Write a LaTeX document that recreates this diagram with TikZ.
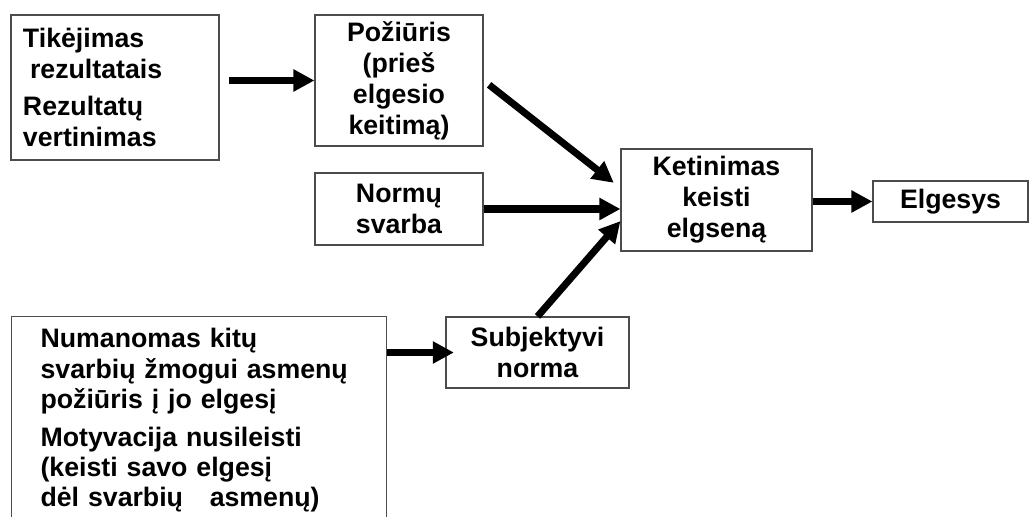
\documentclass[tikz,border=0pt]{standalone}
\usepackage{fontspec}
\setmainfont{Liberation Sans}
\usetikzlibrary{arrows.meta, positioning, calc}

\begin{document}
\begin{tikzpicture}[
  box/.style={rectangle, draw=black!70, line width=0.8pt, fill=white, align=center, inner ysep=2pt, font=\bfseries\fontsize{19}{22}\selectfont},
  leftbox/.style={box, align=left, inner xsep=0.3cm},
  arrow/.style={-{Triangle[length=15pt, width=15pt]}, line width=5pt}
]
  % Frame
  \clip (0,0) rectangle (25.725,12.9);

  % Left boxes
  \node[leftbox, minimum width=5.2cm, minimum height=3.625cm, text width=4.6cm] (tik) at (2.875, 10.7125)
    {Tikėjimas\\ \hspace*{5pt}rezultatais\\[4pt] Rezultatų\\ vertinimas};
  \node[leftbox, anchor=north west, minimum width=9.375cm, text width=7.925cm, inner xsep=0.725cm, inner ysep=0.3cm,
    font=\bfseries\fontsize{19}{21.6}\selectfont] (mot) at (0.275, 5.0)
    {Numanomas kitų\\ svarbių žmogui asmenų\\ požiūris į jo elgesį\\[5pt] Motyvacija nusileisti\\ (keisti savo elgesį\\ dėl svarbių\ \ \ asmenų)};

  % Middle boxes
  \node[box, minimum width=4.2cm, minimum height=3.275cm] (poz) at (9.975, 10.8875) {Požiūris\\ (prieš\\ elgesio\\ keitimą)};
  \node[box, minimum width=4.2cm, minimum height=1.8cm] (norm) at (9.975, 7.675) {Normų\\ svarba};
  \node[box, minimum width=4.575cm, minimum height=1.775cm] (subj) at (13.4375, 4.0875) {Subjektyvi\\ norma};

  % Right boxes
  \node[box, minimum width=4.775cm, minimum height=2.55cm] (ket) at (17.9125, 7.9) {Ketinimas\\ keisti\\ elgseną};
  \node[box, minimum width=3.875cm, minimum height=1.025cm] (elg) at (23.7625, 7.8625) {Elgesys};

  % Connections
  \draw[arrow, shorten <=7pt] (tik.east |- poz.west) -- (poz.west);
  \draw[arrow, shorten <=5pt, shorten >=6pt] (poz.east) -- ([yshift=8.5pt]ket.west);
  \draw[arrow] (norm.east) -- (norm.east -| ket.west);
  \draw[arrow] (subj.north) -- ([yshift=-15pt]ket.west);
  \draw[arrow, shorten >=-6pt] (subj.west -| mot.east) -- (subj.west);
  \draw[arrow] (ket.east |- elg.west) -- (elg.west);
\end{tikzpicture}
\end{document}
